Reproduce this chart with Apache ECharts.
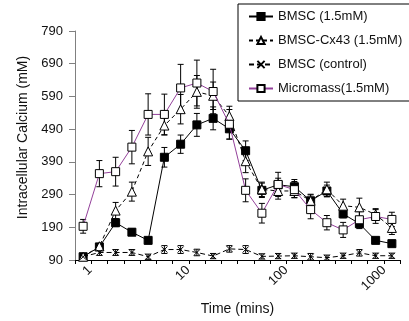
<!DOCTYPE html>
<html>
<head>
<meta charset="utf-8">
<script src="https://cdn.jsdelivr.net/npm/echarts@6/dist/echarts.min.js"></script>
<style>
  html, body { margin: 0; padding: 0; background: #fff; }
  #chart { width: 409px; height: 321px; }
</style>
</head>
<body>
<div id="chart"></div>
<script>
// time points (mins)
const times = ['0.84', '1.23', '1.81', '2.65', '3.88', '5.7', '8.35', '12.2', '17.9', '26.2',
               '38.5', '56.4', '82.4', '121', '177', '259', '381', '557', '817', '1200'];

const bmsc      = [100, 130, 204, 175, 150, 404, 444, 503, 523, 491, 424, 303, 320, 314, 271, 301, 231, 201, 150, 140];
const bmscErr   = [5, 8, 12, 10, 8, 30, 28, 35, 35, 32, 30, 22, 20, 22, 18, 18, 12, 15, 8, 8];
const cx43      = [100, 132, 241, 299, 422, 501, 551, 604, 592, 530, 392, 306, 301, 301, 271, 306, 256, 251, 229, 188];
const cx43Err   = [5, 8, 25, 29, 43, 29, 45, 50, 42, 30, 35, 22, 25, 20, 20, 22, 20, 28, 18, 20];
const control   = [100, 113, 113, 113, 100, 122, 122, 113, 102, 124, 122, 101, 102, 103, 100, 97, 103, 112, 103, 103];
const controlErr = [5, 9, 9, 9, 8, 12, 12, 10, 8, 10, 12, 8, 8, 8, 10, 8, 8, 10, 8, 8];
const micromass = [193, 354, 360, 435, 535, 535, 616, 631, 605, 505, 303, 233, 321, 305, 244, 204, 182, 213, 223, 214];
const micromassErr = [21, 40, 44, 51, 63, 62, 72, 70, 68, 45, 35, 30, 37, 25, 28, 22, 23, 25, 21, 22];

const yTicks = [90, 190, 290, 390, 490, 590, 690, 790];
const names = ['BMSC (1.5mM)', 'BMSC-Cx43 (1.5mM)', 'BMSC (control)', 'Micromass(1.5mM)'];

const FONT = 'Liberation Sans, Arial, sans-serif';
const PURPLE = '#93409a';

const chart = echarts.init(document.getElementById('chart'));

// error bar table: [index, low, high]
const errRows = (vals, errs) => vals.map((v, i) => [i, v - errs[i], v + errs[i]]);

const renderErrorBar = (params, api) => {
    const i = api.value(0);
    const top = api.coord([i, api.value(2)]);
    const bot = api.coord([i, api.value(1)]);
    const half = 3;
    const style = {stroke: '#000', lineWidth: 1};
    return {
        type: 'group',
        children: [
            {type: 'line', shape: {x1: top[0], y1: top[1], x2: bot[0], y2: bot[1]}, style},
            {type: 'line', shape: {x1: top[0] - half, y1: top[1], x2: top[0] + half, y2: top[1]}, style},
            {type: 'line', shape: {x1: bot[0] - half, y1: bot[1], x2: bot[0] + half, y2: bot[1]}, style}
        ]
    };
};

const errSeries = (vals, errs) => ({
    type: 'custom',
    xAxisIndex: 0,
    yAxisIndex: 0,
    z: 1,
    silent: true,
    renderItem: renderErrorBar,
    encode: {x: 0, y: [1, 2]},
    data: errRows(vals, errs)
});

const option = {
    animation: false,
    textStyle: {fontFamily: FONT},
    grid: {left: 75, right: 9, top: 31, bottom: 58, containLabel: false},
    legend: {
        data: names,
        orient: 'vertical',
        left: 238,
        top: 4,
        padding: [5, 30, 5, 10],
        itemGap: 9,
        itemWidth: 24,
        itemHeight: 9,
        borderColor: '#000',
        borderWidth: 1,
        backgroundColor: '#fff',
        textStyle: {fontFamily: FONT, fontSize: 13, color: '#111', lineHeight: 15}
    },
    xAxis: [
        {
            type: 'category',
            position: 'bottom',
            data: times,
            boundaryGap: true,
            name: 'Time (mins)',
            nameLocation: 'middle',
            nameGap: 42,
            nameTextStyle: {fontFamily: FONT, fontSize: 14, color: '#111'},
            axisLine: {lineStyle: {color: '#000', width: 1}},
            axisTick: {show: true, interval: 0, length: 4, lineStyle: {color: '#000'}},
            axisLabel: {show: false},
            splitLine: {show: false}
        },
        {
            type: 'log',
            position: 'bottom',
            logBase: 10,
            min: 0.703,
            max: 1455,
            axisLine: {show: false},
            axisTick: {show: false},
            splitLine: {show: false},
            axisLabel: {
                rotate: 45,
                margin: 8,
                fontSize: 13,
                color: '#111',
                fontFamily: FONT,
                showMinLabel: false,
                showMaxLabel: false,
                formatter: v => String(v)
            }
        }
    ],
    yAxis: {
        type: 'value',
        min: 90,
        max: 790,
        name: 'Intracellular Calcium (mM)',
        nameLocation: 'middle',
        nameGap: 44,
        nameTextStyle: {fontFamily: FONT, fontSize: 14, color: '#111', padding: [0, 0, 0, 16]},
        axisLine: {show: true, lineStyle: {color: '#808080', width: 1}},
        axisTick: {show: true, length: 6, customValues: yTicks, lineStyle: {color: '#808080'}},
        axisLabel: {customValues: yTicks, margin: 12, fontSize: 13, color: '#111', fontFamily: FONT},
        splitLine: {show: false}
    },
    series: [
        errSeries(bmsc, bmscErr),
        errSeries(cx43, cx43Err),
        errSeries(control, controlErr),
        errSeries(micromass, micromassErr),
        {
            name: names[0],
            type: 'line',
            z: 3,
            data: bmsc,
            symbol: 'rect',
            symbolSize: 8,
            showAllSymbol: true,
            lineStyle: {color: '#000', width: 1},
            itemStyle: {color: '#000', borderColor: '#000', borderWidth: 1}
        },
        {
            name: names[1],
            type: 'line',
            z: 3,
            data: cx43,
            symbol: 'triangle',
            symbolSize: 9,
            showAllSymbol: true,
            lineStyle: {color: '#000', width: 1, type: [4, 3]},
            itemStyle: {color: '#fff', borderColor: '#000', borderWidth: 1}
        },
        {
            name: names[2],
            type: 'line',
            z: 3,
            data: control,
            symbol: 'path://M0,0L10,10M10,0L0,10',
            symbolSize: 6,
            showAllSymbol: true,
            lineStyle: {color: '#000', width: 1, type: [5, 3]},
            itemStyle: {color: '#fff', borderColor: '#000', borderWidth: 1}
        },
        {
            name: names[3],
            type: 'line',
            z: 4,
            data: micromass,
            symbol: 'rect',
            symbolSize: 8,
            showAllSymbol: true,
            lineStyle: {color: PURPLE, width: 1},
            itemStyle: {color: '#fff', borderColor: '#000', borderWidth: 1}
        }
    ]
};

chart.setOption(option);
</script>
</body>
</html>
